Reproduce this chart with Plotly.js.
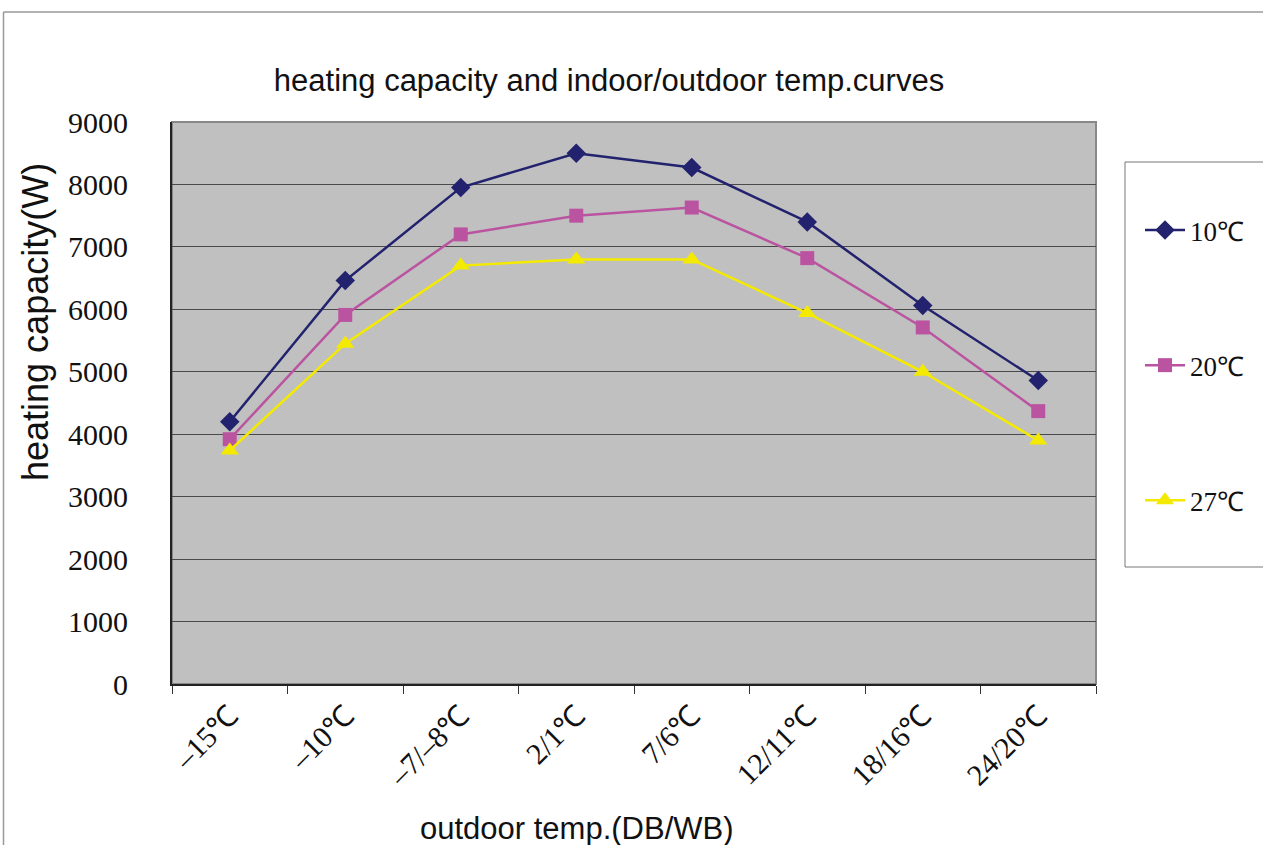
<!DOCTYPE html>
<html>
<head>
<meta charset="utf-8">
<script src="https://cdn.plot.ly/plotly-3.0.1.min.js"></script>
<style>html,body{margin:0;padding:0;background:#fff;}#chart{width:1263px;height:845px;}</style>
</head>
<body>
<div id="chart"></div>
<script>
const categories = ["–15℃", "–10℃", "–7/–8℃", "2/1℃", "7/6℃", "12/11℃", "18/16℃", "24/20℃"];
const seriesNames = ["10℃", "20℃", "27℃"];
const indoor10 = [4200, 6460, 7950, 8500, 8270, 7400, 6060, 4860];
const indoor20 = [3920, 5910, 7200, 7500, 7630, 6820, 5710, 4370];
const indoor27 = [3740, 5450, 6700, 6800, 6800, 5940, 5000, 3900];
const yTicks = [0, 1000, 2000, 3000, 4000, 5000, 6000, 7000, 8000, 9000];

const W = 1263, H = 845;
const L = 172, R = 1096, T = 122, B = 684;
const px = x => (x - L) / (R - L);
const py = y => (B - y) / (B - T);

const serif = "Liberation Serif, Times New Roman, serif";
const sans = "Liberation Sans, Arial, sans-serif";

function tr(name, y, color, symbol, size, group) {
  return {
    x: categories, y: y, name: name, type: "scatter", mode: "lines+markers",
    legendgroup: group,
    line: {color: color, width: 2.5},
    marker: {color: color, symbol: symbol, size: size}
  };
}
const data = [
  tr(seriesNames[0], indoor10, "#22226e", "diamond", 15, "a"),
  tr(seriesNames[1], indoor20, "#bb54a0", "square", 14, "b"),
  tr(seriesNames[2], indoor27, "#f4ea00", "triangle-up", 16, "c")
];

const layout = {
  width: W, height: H,
  margin: {l: L, r: W - R, t: T, b: H - B, pad: 0},
  paper_bgcolor: "#ffffff",
  plot_bgcolor: "#c0c0c0",
  showlegend: true,
  title: {
    text: "heating capacity and indoor/outdoor temp.curves",
    font: {family: sans, size: 31, color: "#111"},
    xref: "container", x: 609 / W, xanchor: "center",
    yref: "container", y: 1 - 80 / H, yanchor: "middle"
  },
  xaxis: {
    type: "category",
    range: [-0.5, 7.5],
    tickson: "boundaries",
    ticks: "outside", ticklen: 8, tickcolor: "#333", tickwidth: 1,
    tickangle: -45,
    tickfont: {family: serif, size: 30, color: "#111"},
    showline: true, linecolor: "#222", linewidth: 2,
    showgrid: false, zeroline: false
  },
  yaxis: {
    range: [0, 9000],
    tickvals: yTicks,
    ticktext: yTicks.map(String),
    ticks: "", ticklabelstandoff: 36,
    tickfont: {family: serif, size: 30, color: "#111"},
    showline: true, linecolor: "#222", linewidth: 2,
    showgrid: true, gridcolor: "#4a4a4a", gridwidth: 1,
    zeroline: false
  },
  legend: {
    x: px(1140), xanchor: "left",
    y: py(206), yanchor: "top",
    traceorder: "grouped",
    tracegroupgap: 97,
    bgcolor: "rgba(0,0,0,0)",
    borderwidth: 0,
    font: {family: serif, size: 27, color: "#111"},
    itemwidth: 40
  },
  annotations: [
    {text: "heating capacity(W)", xref: "paper", yref: "paper",
     x: px(35), y: py(322), xanchor: "center", yanchor: "middle",
     textangle: -90, showarrow: false, font: {family: sans, size: 36, color: "#111"}},
    {text: "outdoor temp.(DB/WB)", xref: "paper", yref: "paper",
     x: px(577), y: py(828), xanchor: "center", yanchor: "middle",
     showarrow: false, font: {family: sans, size: 31, color: "#111"}}
  ],
  shapes: [
    {type: "rect", xref: "paper", yref: "paper", x0: 0, x1: 1, y0: 0, y1: 1,
     line: {color: "#888", width: 2}, layer: "below"},
    {type: "rect", xref: "paper", yref: "paper", x0: px(1125), x1: px(1268), y0: py(567), y1: py(162),
     line: {color: "#777", width: 1}},
    {type: "line", xref: "paper", yref: "paper", x0: px(3.5), x1: px(1270), y0: py(12), y1: py(12),
     line: {color: "#999", width: 1.5}},
    {type: "line", xref: "paper", yref: "paper", x0: px(3.5), x1: px(3.5), y0: py(12), y1: py(850),
     line: {color: "#999", width: 1.5}}
  ]
};

Plotly.newPlot("chart", data, layout, {staticPlot: true, displayModeBar: false});
</script>
</body>
</html>
